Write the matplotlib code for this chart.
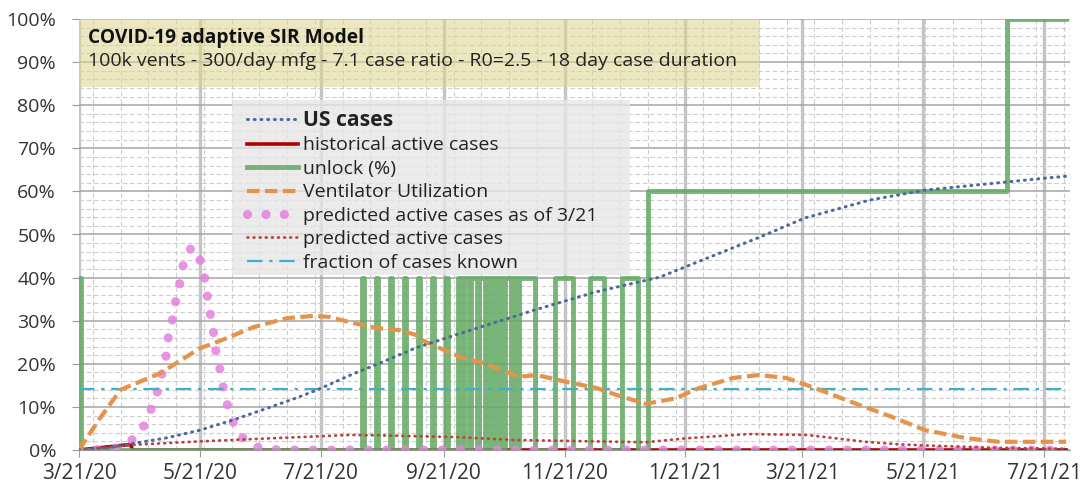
import numpy as np
import pandas as pd
import matplotlib
matplotlib.use("Agg")
import matplotlib.pyplot as plt
from matplotlib.patches import Rectangle
from matplotlib.ticker import FuncFormatter

plt.rcParams['font.family'] = ['Open Sans', 'DejaVu Sans']

START = pd.Timestamp('2020-03-21')
END_DAY = 500

# ---------------- data (day offsets from 3/21/20, values in %) ----------------
us_days = [0, 15, 27, 44, 61, 78, 95, 111, 121, 137, 153, 170, 190, 230, 261, 293, 313, 343, 366, 399, 427, 464, 488, 498]
us_vals = [0, 0.5, 1.5, 2.8, 4.6, 7.0, 9.7, 12.3, 14.1, 17.4, 20.4, 23.7, 26.7, 32.5, 36.7, 40.1, 43.8, 49.3, 53.8, 58.0, 60.3, 62.0, 63.1, 63.5]

hist_days = [0, 26, 27, 498]
hist_vals = [0, 1.3, 0, 0]

unlock_days = [0, 1, 143, 144, 150, 151, 157, 158, 164, 165, 171, 172, 178, 179, 185, 186,
               191, 193, 194, 197, 198, 201, 202, 205, 206, 208, 209, 211, 212, 214, 215, 218,
               219, 221, 222, 230, 240, 249, 258, 265, 274, 282, 287, 468, 498]
unlock_vals = [40, 0, 40, 0, 40, 0, 40, 0, 40, 0, 40, 0, 40, 0, 40, 0,
               40, 0, 40, 0, 40, 0, 40, 0, 40, 0, 40, 0, 40, 0, 40, 0,
               40, 0, 40, 0, 40, 0, 40, 0, 40, 0, 60, 100, 100]

vent_days = [0, 10, 21, 41, 61, 71, 88, 105, 118, 126, 138, 150, 162, 170, 173, 192, 204, 222,
             231, 246, 261, 271, 286, 301, 313, 330, 343, 357, 370, 387, 410, 427, 447, 464, 498]
vent_vals = [0, 7, 14, 17.8, 23.6, 25.3, 28.5, 30.6, 31.1, 30.9, 29.5, 28.3, 27.8, 26.7, 25.5, 21.6, 20.2, 17.0,
             17.4, 15.8, 14.4, 12.8, 10.7, 12.0, 14.4, 16.7, 17.4, 16.7, 14.6, 11.6, 7.7, 4.6, 2.8, 1.9, 1.9]

pred321_days = [0, 11, 20, 29, 34, 37, 40, 42, 44, 45, 47, 48.5, 50.5, 52, 54.5, 57, 59,
                62, 64, 65, 66.5, 68, 69, 71, 72.5, 74.5, 77, 81, 88, 99, 110, 498]
pred321_vals = [0, 0.1, 0.5, 3.0, 6.5, 10.2, 14.1, 18.0, 22.0, 26.0, 30.0, 33.9, 37.8, 42.0, 45.7, 47.0, 46.6,
                42.9, 38.7, 34.8, 30.9, 26.9, 23.0, 19.0, 15.0, 11.1, 7.2, 3.5, 0.8, 0.1, 0, 0]

pred_days = [0, 27, 61, 91, 122, 137, 152, 190, 221, 286, 306, 338, 367, 397, 414, 430, 464, 498]
pred_vals = [0, 1.2, 2.0, 2.6, 3.2, 3.5, 3.4, 3.0, 2.3, 1.8, 2.7, 3.7, 3.5, 1.9, 1.3, 1.0, 0.5, 0.3]

known_days = [0, 498]
known_vals = [14.1, 14.1]

tick_labels = ['3/21/20', '5/21/20', '7/21/20', '9/21/20', '11/21/20',
               '1/21/21', '3/21/21', '5/21/21', '7/21/21']
ytick_vals = [0, 10, 20, 30, 40, 50, 60, 70, 80, 90, 100]

title_text = 'COVID-19 adaptive SIR Model'
subtitle_text = '100k vents - 300/day mfg - 7.1 case ratio - R0=2.5 - 18 day case duration'


def to_dates(days):
    return START + pd.to_timedelta(np.asarray(days, dtype=float), unit='D')


W, H = 1089, 486
fig = plt.figure(figsize=(W / 100, H / 100), dpi=100)
ax = fig.add_axes([79 / W, 36 / H, 991 / W, 431 / H])

# series
l_us, = ax.plot(to_dates(us_days), us_vals, color='#4a6a9c', lw=2.2,
                linestyle=(0, (0.3, 1.9)), dash_capstyle='round', zorder=5, label='US cases')
l_hist, = ax.plot(to_dates(hist_days), hist_vals, color='#b00000', lw=2.6, zorder=2,
                  label='historical active cases')
l_unl, = ax.step(to_dates(unlock_days), unlock_vals, where='post', color='#62a862', lw=3.5,
                 alpha=0.85, zorder=2.1, label='unlock (%)')
l_vent, = ax.plot(to_dates(vent_days), vent_vals, color='#e5934a', lw=3.0,
                  linestyle=(0, (3, 1.3)), zorder=4, label='Ventilator Utilization')
l_p321, = ax.plot(to_dates(pred321_days), pred321_vals, color='#e680e0', lw=6.6, alpha=0.85,
                  linestyle=(0, (0.01, 2.0)), dash_capstyle='round', zorder=3,
                  label='predicted active cases as of 3/21')
l_pred, = ax.plot(to_dates(pred_days), pred_vals, color='#b84440', lw=2.0,
                  linestyle=(0, (0.3, 1.9)), dash_capstyle='round', zorder=4.5,
                  label='predicted active cases')
l_known, = ax.plot(to_dates(known_days), known_vals, color='#3fb0cc', lw=1.6,
                   linestyle=(0, (7, 3, 1.5, 3)), zorder=3.5, label='fraction of cases known')

# axes
ax.set_ylim(0, 100)
ax.set_xlim(to_dates([0])[0], to_dates([END_DAY])[0])
ax.set_yticks(ytick_vals)
ax.yaxis.set_major_formatter(FuncFormatter(lambda v, p: f'{v:.0f}%'))
ax.set_yticks(np.arange(0, 101, 2), minor=True)
tick_dates = pd.to_datetime(tick_labels, format='%m/%d/%y')
ax.set_xticks(tick_dates)
ax.set_xticklabels(tick_labels)
ax.set_xticks(to_dates(np.arange(7, END_DAY, 14)), minor=True)

ax.grid(which='major', axis='y', color='#a4a4a4', lw=1.1, zorder=0)
ax.grid(which='major', axis='x', color='#c4c4c4', lw=2.4, zorder=0)
ax.grid(which='minor', axis='both', color='#cdcdcd', lw=0.8, linestyle=(0, (4, 2.5)), zorder=0)
ax.set_axisbelow(True)
for s in ['top', 'right', 'left']:
    ax.spines[s].set_visible(False)
ax.spines['bottom'].set_color('#9a9a9a')
ax.tick_params(which='major', length=5, color='#9a9a9a', labelcolor='#333333')
ax.tick_params(axis='y', labelsize=14, pad=11.5)
ax.tick_params(axis='x', labelsize=15, pad=4)
ax.tick_params(which='minor', length=0)

# title box
ax.add_patch(Rectangle((0, 1 - 68 / 431), (760 - 79) / 991, 68 / 431, transform=ax.transAxes,
                       facecolor='#dcd68e', alpha=0.55, edgecolor='none', zorder=6))
ax.text(9 / 991, 1 - 19 / 431, title_text, transform=ax.transAxes, fontsize=13.8,
        fontweight='bold', color='#111111', va='center', ha='left', zorder=7)
ax.text(9 / 991, 1 - 42 / 431, subtitle_text, transform=ax.transAxes, fontsize=14,
        color='#222222', va='center', ha='left', zorder=7)

# legend box + legend
ax.add_patch(Rectangle((232 / W, 1 - 275 / H), (630 - 232) / W, 175 / H, transform=fig.transFigure,
                       facecolor='#e6e6e6', alpha=0.8, edgecolor='none', zorder=6))
handles = [l_us, l_hist, l_unl, l_vent, l_p321, l_pred, l_known]
leg = ax.legend(handles=handles, loc='upper left',
                bbox_to_anchor=(247 / W, 1 - 110 / H), bbox_transform=fig.transFigure,
                frameon=False, fontsize=14, handlelength=2.6, handletextpad=0.26,
                labelspacing=0.28, borderpad=0, borderaxespad=0)
leg.set_zorder(8)
for t in leg.get_texts():
    t.set_color('#222222')
leg.get_texts()[0].set_fontweight('bold')
leg.get_texts()[0].set_fontsize(15.2)

fig.savefig('out.png', dpi=100)
